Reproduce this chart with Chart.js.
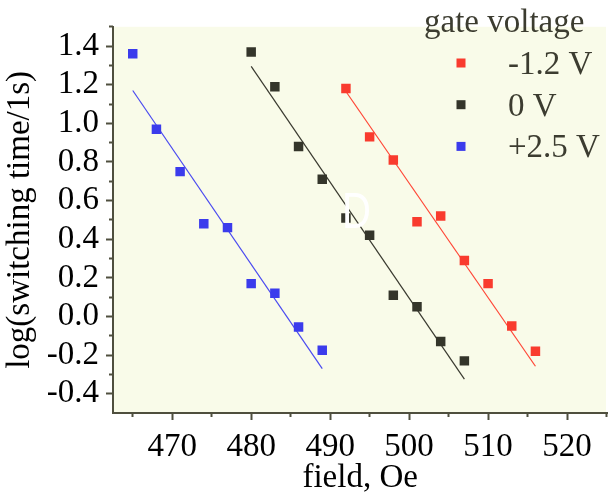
<!DOCTYPE html>
<html>
<head>
<meta charset="utf-8">
<script src="https://cdn.jsdelivr.net/npm/chart.js@4/dist/chart.umd.min.js"></script>
<style>
  html, body { margin: 0; padding: 0; background: #fff; }
  #wrap { width: 614px; height: 495px; }
</style>
</head>
<body>
<div id="wrap"><canvas id="fieldChart" width="614" height="495"></canvas></div>
<script>
// measured points, field (Oe) vs log(switching time)
const redX = [492, 495, 498, 501, 504, 507, 510, 513, 516];
const redY = [1.18, 0.93, 0.81, 0.49, 0.52, 0.29, 0.17, -0.05, -0.18];
const blackX = [480, 483, 486, 489, 492, 495, 498, 501, 504, 507];
const blackY = [1.37, 1.19, 0.88, 0.71, 0.51, 0.42, 0.11, 0.05, -0.13, -0.23];
const blueX = [465, 468, 471, 474, 477, 480, 483, 486, 489];
const blueY = [1.36, 0.97, 0.75, 0.48, 0.46, 0.17, 0.12, -0.055, -0.175];

// linear fits (end points)
const redFitX = [492, 516];
const redFitY = [1.165, -0.258];
const blackFitX = [480, 507];
const blackFitY = [1.295, -0.325];
const blueFitX = [465, 489];
const blueFitY = [1.17, -0.27];

const seriesLabels = ['-1.2 V', '0 V', '+2.5 V'];
const legendTitle = 'gate voltage';

const yMajor = [-0.4, -0.2, 0, 0.2, 0.4, 0.6, 0.8, 1.0, 1.2, 1.4];
const yMinor = [-0.3, -0.1, 0.1, 0.3, 0.5, 0.7, 0.9, 1.1, 1.3, 1.5];
const xMajor = [470, 480, 490, 500, 510, 520];
const xMinor = [465, 475, 485, 495, 505, 515, 525];

const colors = ['#f93b2e', '#34352a', '#3b3bec'];
const lineColors = ['#ff4535', '#3a3a30', '#4a4af0'];
const axisColor = '#4f4f3e';
const plotBg = '#f9fbe9';
const serif = '"Liberation Serif", "Times New Roman", serif';

const toPoints = (xs, ys) => xs.map((x, i) => ({ x, y: ys[i] }));

const overlay = {
    id: 'overlay',
    beforeDraw(chart) {
        const { ctx, chartArea } = chart;
        ctx.save();
        ctx.fillStyle = plotBg;
        ctx.fillRect(chartArea.left, chartArea.top, 606 - chartArea.left, chartArea.bottom - chartArea.top);
        ctx.restore();
    },
    afterDatasetsDraw(chart) {
        // white "D" sitting over the plot in the source image
        const { ctx } = chart;
        ctx.save();
        ctx.fillStyle = '#ffffff';
        ctx.font = '50px "Liberation Sans", Arial, sans-serif';
        ctx.textBaseline = 'alphabetic';
        ctx.translate(342, 228);
        ctx.scale(0.8, 1);
        ctx.fillText('D', 0, 0);
        ctx.restore();
    },
    afterDraw(chart) {
        const { ctx } = chart;
        ctx.save();
        ctx.font = `33px ${serif}`;
        ctx.fillStyle = '#3c3c30';
        ctx.textBaseline = 'alphabetic';
        ctx.textAlign = 'left';
        ctx.fillText(legendTitle, 424, 32);
        seriesLabels.forEach((label, i) => {
            const cy = 63 + i * 41.7;
            ctx.fillStyle = colors[i];
            ctx.fillRect(456.5, cy - 4.5, 9, 9);
            ctx.fillStyle = '#3c3c30';
            ctx.fillText(label, 508, cy + 11);
        });
        ctx.restore();
    },
};

const tickFont = { family: serif, size: 33 };

new Chart(document.getElementById('fieldChart'), {
    type: 'scatter',
    data: {
        datasets: [
            { label: seriesLabels[0], data: toPoints(redX, redY), backgroundColor: colors[0], pointStyle: 'rect', pointRadius: 6.7, pointBorderWidth: 0 },
            { label: seriesLabels[1], data: toPoints(blackX, blackY), backgroundColor: colors[1], pointStyle: 'rect', pointRadius: 6.7, pointBorderWidth: 0 },
            { label: seriesLabels[2], data: toPoints(blueX, blueY), backgroundColor: colors[2], pointStyle: 'rect', pointRadius: 6.7, pointBorderWidth: 0 },
            { label: 'fit red', data: toPoints(redFitX, redFitY), showLine: true, borderColor: lineColors[0], borderWidth: 1.2, pointRadius: 0 },
            { label: 'fit black', data: toPoints(blackFitX, blackFitY), showLine: true, borderColor: lineColors[1], borderWidth: 1.2, pointRadius: 0 },
            { label: 'fit blue', data: toPoints(blueFitX, blueFitY), showLine: true, borderColor: lineColors[2], borderWidth: 1.2, pointRadius: 0 },
        ],
    },
    options: {
        responsive: false,
        devicePixelRatio: 1,
        animation: false,
        layout: { padding: { top: 10, right: 0, bottom: 0, left: 0 } },
        plugins: { legend: { display: false }, tooltip: { enabled: false } },
        scales: {
            x: {
                type: 'linear', position: 'bottom', weight: 1,
                min: 462.5, max: 525.1,
                afterBuildTicks: (s) => { s.ticks = xMajor.map((v) => ({ value: v })); },
                afterFit: (s) => { s.height = 82; },
                ticks: { autoSkip: false, maxRotation: 0, font: tickFont, color: '#000', padding: 8, callback: (v) => String(v) },
                grid: { drawOnChartArea: false, tickLength: 7, tickWidth: 2, tickColor: axisColor },
                border: { color: axisColor, width: 2 },
                title: { display: true, text: 'field, Oe', color: '#000', font: { family: serif, size: 33, lineHeight: 1 }, padding: { top: 0, bottom: 0 } },
            },
            xMinor: {
                type: 'linear', position: 'bottom', weight: 0,
                min: 462.5, max: 525.1,
                afterBuildTicks: (s) => { s.ticks = xMinor.map((v) => ({ value: v })); },
                afterFit: (s) => { s.height = 0; },
                ticks: { display: false, autoSkip: false },
                grid: { drawOnChartArea: false, tickLength: 4, tickWidth: 2, tickColor: axisColor },
                border: { display: false },
            },
            y: {
                type: 'linear', position: 'left', weight: 1,
                min: -0.5, max: 1.5,
                afterBuildTicks: (s) => { s.ticks = yMajor.map((v) => ({ value: v })); },
                afterFit: (s) => { s.width = 113; },
                ticks: { autoSkip: false, font: tickFont, color: '#000', padding: 7, callback: (v) => Number(v).toFixed(1) },
                grid: { drawOnChartArea: false, tickLength: 7, tickWidth: 2, tickColor: axisColor },
                border: { color: axisColor, width: 2 },
                title: { display: true, text: 'log(switching time/1s)', color: '#000', font: { family: serif, size: 33, lineHeight: 1 }, padding: { top: 4, bottom: 0 } },
            },
            yMinor: {
                type: 'linear', position: 'left', weight: 0,
                min: -0.5, max: 1.5,
                afterBuildTicks: (s) => { s.ticks = yMinor.map((v) => ({ value: v })); },
                afterFit: (s) => { s.width = 0; },
                ticks: { display: false, autoSkip: false },
                grid: { drawOnChartArea: false, tickLength: 4, tickWidth: 2, tickColor: axisColor },
                border: { display: false },
            },
        },
    },
    plugins: [overlay],
});
</script>
</body>
</html>
